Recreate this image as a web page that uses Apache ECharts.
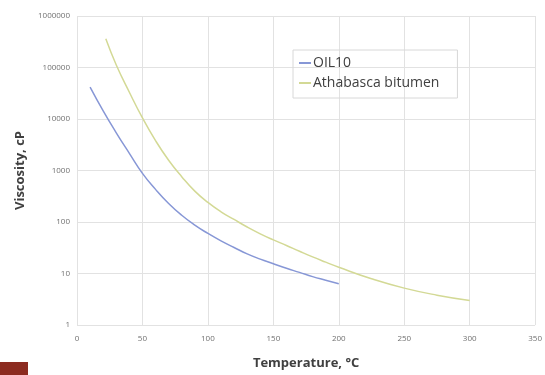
<!DOCTYPE html>
<html>
<head>
    <meta charset="utf-8">
    <title>Viscosity</title>
    <script src="https://cdn.jsdelivr.net/npm/echarts@6/dist/echarts.min.js"></script>
</head>
<body style="margin:0;background:#fff">
    <div id="main" style="width:545px;height:375px;"></div>
    <script type="text/javascript">
        // temperatures (°C) and viscosities (cP)
        var oilTemp = [10, 20, 30, 40, 50, 60, 70, 80, 90, 100, 110, 120, 130, 140, 150, 160, 170, 180, 190, 200];
        var oilVisc = [41700, 14400, 5400, 2150, 880, 430, 229, 135, 87, 60, 43, 32, 24, 19, 15.5, 12.6, 10.5, 8.7, 7.4, 6.3];
        var bitTemp = [22, 30, 40, 50, 60, 70, 80, 90, 100, 110, 120, 130, 140, 150, 160, 170, 180, 190, 200, 225, 250, 275, 300];
        var bitVisc = [360000, 112000, 33100, 10500, 3800, 1585, 759, 398, 240, 158, 112, 80, 59, 45, 35, 27, 21, 16.6, 13.2, 7.9, 5.2, 3.8, 3.0];
        var seriesNames = ['OIL10', 'Athabasca bitumen'];

        function pairs(xs, ys) {
            var out = [];
            for (var i = 0; i < xs.length; i++) out.push([xs[i], ys[i]]);
            return out;
        }

        var myChart = echarts.init(document.getElementById('main'));
        var font = 'Open Sans, sans-serif';
        var option = {
            animation: false,
            color: ['#8797d6', '#d3d995'],
            textStyle: { fontFamily: font },
            grid: { left: 77, right: 8, top: 16, bottom: 48 },
            legend: {
                orient: 'vertical',
                left: 293,
                top: 50,
                padding: [6, 18, 8, 6],
                itemGap: 6,
                itemWidth: 12,
                itemHeight: 2,
                borderColor: '#d8d8d8',
                borderWidth: 1,
                data: [
                    { name: seriesNames[0], icon: 'rect' },
                    { name: seriesNames[1], icon: 'rect' }
                ],
                textStyle: { fontSize: 14, color: '#404040', fontFamily: font, padding: [0, 0, 0, -3] }
            },
            xAxis: {
                type: 'value',
                min: 0,
                max: 350,
                interval: 50,
                name: 'Temperature, °C',
                nameLocation: 'middle',
                nameGap: 32,
                nameTextStyle: { fontSize: 13, fontWeight: 'bold', color: '#404040' },
                axisLine: { show: false },
                axisTick: { show: false },
                axisLabel: { fontSize: 8, color: '#707070', margin: 10 },
                splitLine: { lineStyle: { color: '#e2e2e2' } }
            },
            yAxis: {
                type: 'log',
                logBase: 10,
                min: 1,
                max: 1000000,
                name: 'Viscosity, cP',
                nameLocation: 'middle',
                nameGap: 50,
                nameTextStyle: { fontSize: 13, fontWeight: 'bold', color: '#404040' },
                axisLine: { show: false },
                axisTick: { show: false },
                axisLabel: {
                    fontSize: 8, color: '#707070', margin: 7,
                    formatter: function (v) { return String(Math.round(v)); }
                },
                splitLine: { lineStyle: { color: '#e2e2e2' } }
            },
            graphic: [{
                type: 'rect',
                shape: { x: 0, y: 362, width: 28, height: 13 },
                style: { fill: '#8c2b20' }
            }],
            series: [
                {
                    name: seriesNames[0],
                    type: 'line',
                    smooth: true,
                    showSymbol: false,
                    lineStyle: { width: 1.5 },
                    data: pairs(oilTemp, oilVisc)
                },
                {
                    name: seriesNames[1],
                    type: 'line',
                    smooth: true,
                    showSymbol: false,
                    lineStyle: { width: 1.5 },
                    data: pairs(bitTemp, bitVisc)
                }
            ]
        };
        myChart.setOption(option);
    </script>
</body>
</html>
